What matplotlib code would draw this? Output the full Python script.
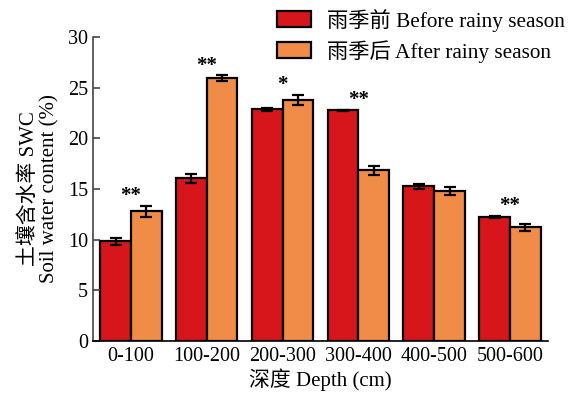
import matplotlib
matplotlib.use("Agg")
import matplotlib.pyplot as plt
import numpy as np

plt.rcParams['font.family'] = ['Liberation Serif', 'Noto Sans CJK SC']

# soil water content by depth layer
depths = ["0-100", "100-200", "200-300", "300-400", "400-500", "500-600"]
before = [9.85, 16.05, 22.85, 22.75, 15.25, 12.25]
before_err = [0.35, 0.45, 0.12, 0.08, 0.25, 0.12]
after = [12.8, 25.95, 23.8, 16.85, 14.8, 11.2]
after_err = [0.55, 0.25, 0.5, 0.45, 0.4, 0.35]
signif = ["**", "**", "*", "**", "", "**"]

c_before = '#d7161c'
c_after = '#f08c47'

fig = plt.figure(figsize=(5.69, 3.99), dpi=100)
ax = fig.add_axes([0.1634, 0.1454, 0.7996, 0.7619])

x = np.arange(len(depths))
w = 0.405
ekw = dict(elinewidth=1.6, capthick=1.6, ecolor='black')
b1 = ax.bar(x - w / 2, before, w, yerr=before_err, color=c_before,
            edgecolor='black', linewidth=1.6, capsize=4.5, error_kw=ekw,
            label="雨季前 Before rainy season")
b2 = ax.bar(x + w / 2, after, w, yerr=after_err, color=c_after,
            edgecolor='black', linewidth=1.6, capsize=4.5, error_kw=ekw,
            label="雨季后 After rainy season")

# significance marks above each pair
for i, s in enumerate(signif):
    if not s:
        continue
    top = max(before[i] + before_err[i], after[i] + after_err[i])
    ax.text(x[i], top + 0.45, s, ha='center', va='baseline', fontsize=15,
            fontweight='bold')

ax.set_xlim(-0.5, 5.5)
ax.set_ylim(0, 30)
ax.set_yticks(np.arange(0, 31, 5))
ax.set_xticks(x)
ax.set_xticklabels(depths)
ax.tick_params(axis='y', direction='in', length=5, width=1.2, labelsize=14.5,
               color='#444444')
ax.tick_params(axis='x', length=0, labelsize=14.5, pad=4)
ax.spines['top'].set_visible(False)
ax.spines['right'].set_visible(False)
ax.spines['left'].set_color('#444444')
ax.spines['left'].set_linewidth(1.2)
ax.spines['bottom'].set_linewidth(1.2)

ax.set_xlabel("深度 Depth (cm)", fontsize=15, labelpad=2)
ax.set_ylabel("土壤含水率 SWC\nSoil water content (%)", fontsize=15,
              labelpad=6, linespacing=1.1)

fig.legend(handles=[b1, b2], loc='upper right', bbox_to_anchor=(1.012, 1.005),
           frameon=False, fontsize=15.3, handlelength=1.6, handleheight=0.8,
           handletextpad=0.75, labelspacing=0.4, borderaxespad=0.1)

fig.savefig("out.png", dpi=100)
